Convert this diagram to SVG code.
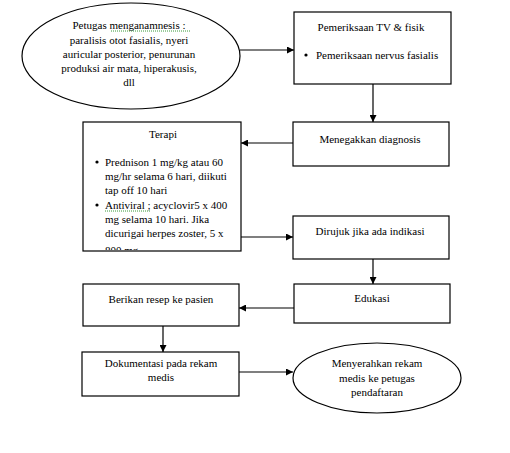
<svg xmlns="http://www.w3.org/2000/svg" width="510" height="453" viewBox="0 0 510 453">
<style>
text{font-family:"Liberation Serif","Times New Roman",serif;font-size:11px;fill:#000}
.c{text-anchor:middle}
.box{fill:#fff;stroke:#000;stroke-width:1.2}
.con{stroke:#000;stroke-width:1.2;fill:none}
.sp{stroke:#3a9a3a;stroke-width:1;stroke-dasharray:1 1;fill:none}
</style>
<defs>
<marker id="ah" viewBox="0 0 10 10" refX="10" refY="5" markerWidth="7" markerHeight="7" markerUnits="userSpaceOnUse" orient="auto"><path d="M0,0 L10,5 L0,10 z" fill="#000"/></marker>
<clipPath id="tclip"><rect x="83" y="122" width="158" height="128"/></clipPath>
</defs>
<g id="connectors">
<line class="con" x1="240" y1="50" x2="294" y2="50" marker-end="url(#ah)"/>
<line class="con" x1="373" y1="84" x2="373" y2="122" marker-end="url(#ah)"/>
<line class="con" x1="293" y1="143" x2="241" y2="143" marker-end="url(#ah)"/>
<line class="con" x1="241" y1="237" x2="293" y2="237" marker-end="url(#ah)"/>
<line class="con" x1="373" y1="259" x2="373" y2="284" marker-end="url(#ah)"/>
<line class="con" x1="294" y1="308" x2="239" y2="308" marker-end="url(#ah)"/>
<line class="con" x1="163" y1="326" x2="163" y2="352" marker-end="url(#ah)"/>
<line class="con" x1="239" y1="372" x2="293" y2="372" marker-end="url(#ah)"/>
</g>
<g id="anamnesis">
<ellipse class="box" cx="131" cy="56" rx="109" ry="53"/>
<text class="c" x="129" y="29">Petugas menganamnesis :</text>
<path class="sp" d="M111,31 H190"/>
<text class="c" x="129" y="44">paralisis otot fasialis, nyeri</text>
<text class="c" x="129" y="58">auricular posterior, penurunan</text>
<text class="c" x="129" y="72">produksi air mata, hiperakusis,</text>
<text class="c" x="129" y="86">dll</text>
</g>
<g id="pemeriksaan">
<rect class="box" x="294" y="12" width="157" height="72"/>
<text class="c" x="371" y="31">Pemeriksaan TV &amp; fisik</text>
<circle cx="306" cy="55" r="1.6" fill="#000"/>
<text x="316" y="59">Pemeriksaan nervus fasialis</text>
</g>
<g id="diagnosis">
<rect class="box" x="293" y="122" width="156" height="44"/>
<text class="c" x="370" y="143">Menegakkan diagnosis</text>
</g>
<g id="terapi">
<rect class="box" x="83" y="122" width="158" height="129"/>
<text class="c" x="163" y="138">Terapi</text>
<g clip-path="url(#tclip)">
<circle cx="97" cy="162" r="1.6" fill="#000"/>
<text x="105" y="166">Prednison 1 mg/kg atau 60</text>
<text x="105" y="180">mg/hr selama 6 hari, diikuti</text>
<text x="105" y="194">tap off 10 hari</text>
<circle cx="97" cy="205" r="1.6" fill="#000"/>
<text x="105" y="209">Antiviral ; acyclovir5 x 400</text>
<path class="sp" d="M105,211 H151"/>
<text x="105" y="223">mg selama 10 hari. Jika</text>
<text x="105" y="237">dicurigai herpes zoster, 5 x</text>
<text x="105" y="254">800 mg</text>
</g>
</g>
<g id="dirujuk">
<rect class="box" x="293" y="216" width="156" height="43"/>
<text class="c" x="370" y="235">Dirujuk jika ada indikasi</text>
</g>
<g id="edukasi">
<rect class="box" x="294" y="284" width="156" height="39"/>
<text class="c" x="372" y="302">Edukasi</text>
</g>
<g id="resep">
<rect class="box" x="83" y="284" width="156" height="42"/>
<text class="c" x="161" y="303">Berikan resep ke pasien</text>
</g>
<g id="dokumentasi">
<rect class="box" x="82" y="352" width="157" height="44"/>
<text class="c" x="161" y="367">Dokumentasi pada rekam</text>
<text class="c" x="161" y="381">medis</text>
</g>
<g id="menyerahkan">
<ellipse class="box" cx="377" cy="378" rx="84" ry="35"/>
<text class="c" x="377" y="367">Menyerahkan rekam</text>
<text class="c" x="377" y="382">medis ke petugas</text>
<text class="c" x="377" y="396">pendaftaran</text>
</g>
</svg>
